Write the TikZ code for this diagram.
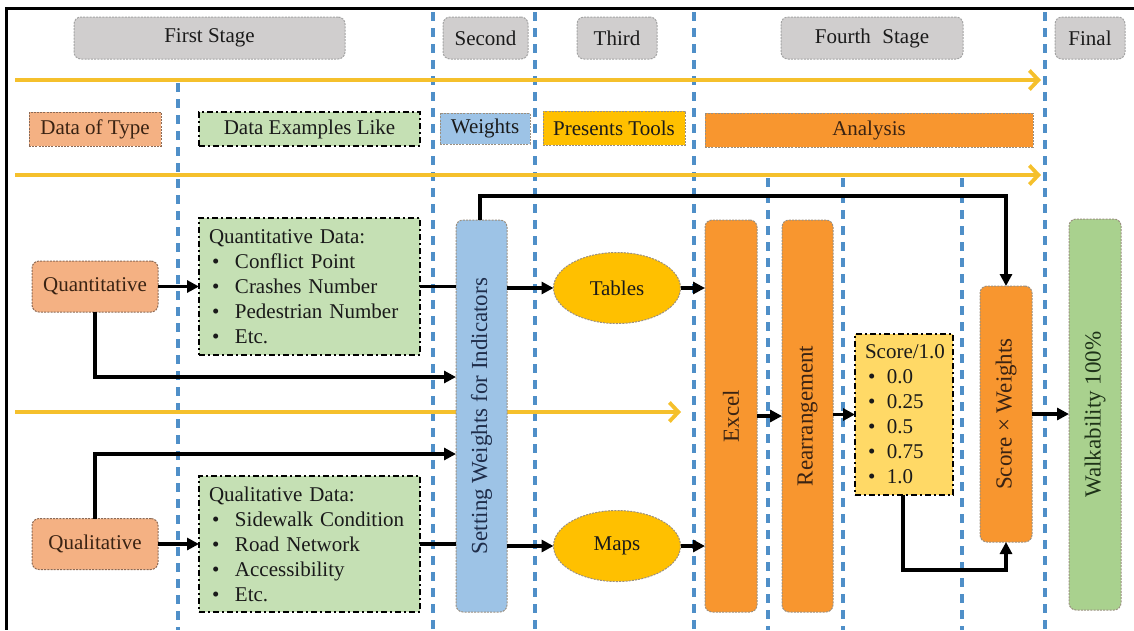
\documentclass[tikz,border=0pt]{standalone}
\usepackage{fontspec}
\usepackage{graphicx}
\setmainfont{Liberation Serif}
\usetikzlibrary{arrows.meta,shapes.geometric,calc}

\definecolor{hdrgray}{HTML}{D0CECE}
\definecolor{hdredge}{HTML}{A3A3A3}
\definecolor{peach}{HTML}{F4B183}
\definecolor{peachedge}{HTML}{8C6A55}
\definecolor{mint}{HTML}{C5E0B4}
\definecolor{sky}{HTML}{9DC3E6}
\definecolor{amber}{HTML}{FFC000}
\definecolor{tangerine}{HTML}{F8962F}
\definecolor{butter}{HTML}{FFD966}
\definecolor{leaf}{HTML}{A9D18E}
\definecolor{guide}{HTML}{4F8FC8}
\definecolor{flow}{HTML}{F5C02C}
\definecolor{ink}{HTML}{1A1A1A}
\definecolor{brownink}{HTML}{3A2313}
\definecolor{softedge}{HTML}{9A8F80}
\definecolor{navyink}{HTML}{1F2D4A}
\definecolor{greenink}{HTML}{1E3218}

\tikzset{
  base/.style={rectangle, inner sep=0pt, outer sep=0pt, text=ink,
    font=\fontsize{21}{25}\selectfont},
  thindash/.style={line width=1pt, dash pattern=on 2pt off 1.2pt},
  dashdot/.style={draw=black, line width=2.2pt, dash pattern=on 6pt off 3pt on 2pt off 3pt},
  hdr/.style={base, draw=hdredge, thindash, fill=hdrgray, rounded corners=7pt,
    minimum height=42pt},
  tagbox/.style={base, draw=softedge, thindash, minimum height=34pt},
  peachbox/.style={base, draw=peachedge, thindash, fill=peach, text=brownink,
    rounded corners=7pt, minimum width=126pt, minimum height=51pt},
  listbox/.style={base, dashdot, align=left, inner xsep=10pt},
  tall/.style={base, draw=softedge, thindash, rounded corners=7pt,
    font=\fontsize{23}{27}\selectfont},
  oval/.style={base, ellipse, draw=softedge, thindash, fill=amber,
    minimum width=127pt, minimum height=71pt},
  conn/.style={draw=black, line width=3.4pt,
    -{Triangle[length=12pt,width=12pt]}},
  link/.style={draw=black, line width=3.4pt},
  guideline/.style={draw=guide, line width=3.4pt, dash pattern=on 9pt off 7pt},
  flowarrow/.style={draw=flow, line width=4pt,
    -{Straight Barb[length=9pt,width=19pt,line width=3.8pt]}}
}

\begin{document}
\begin{tikzpicture}[x=1pt,y=-1pt]
\useasboundingbox (0,0) rectangle (1134,630);

% frame (top and left edges)
\draw[line width=3pt] (1134,8) -- (6,8) -- (6,630);

% stage separators
\foreach \gx in {433,535,694,1045} \draw[guideline] (\gx,12) -- (\gx,630);
\draw[guideline] (178,83) -- (178,630);
\foreach \gx in {768,843,962} \draw[guideline] (\gx,178) -- (\gx,630);

% flow arrows
\coordinate (f1s) at (15,80);   \coordinate (f1e) at (1041,80);
\coordinate (f2s) at (15,175);  \coordinate (f2e) at (1041,175);
\coordinate (f3s) at (15,412);  \coordinate (f3e) at (681,412);
\draw[flowarrow] (f1s) -- (f1e);
\draw[flowarrow] (f2s) -- (f2e);
\draw[flowarrow] (f3s) -- (f3e);

% stage headers
\node[hdr, minimum width=271pt] (h1) at (209.5,38) {First Stage};
\node[hdr, minimum width=85pt]  (h2) at (485.5,38) {Second};
\node[hdr, minimum width=80pt]  (h3) at (617,38)   {Third};
\node[hdr, minimum width=182pt] (h4) at (872,38)   {Fourth\hspace{0.55em}Stage};
\node[hdr, minimum width=70pt]  (h5) at (1090,38)  {Final};

% column captions
\node[tagbox, draw=peachedge, fill=peach, text=brownink, minimum width=132pt] (t1) at (95,129) {Data of Type};
\node[base, dashdot, fill=mint, minimum width=221pt, minimum height=34pt] (t2) at (309.5,129) {Data Examples Like};
\node[tagbox, fill=sky, minimum width=90pt, minimum height=31pt] (t3) at (485,128.5) {Weights};
\node[tagbox, fill=amber, minimum width=142pt] (t4) at (614,128) {Presents Tools};
\node[tagbox, fill=tangerine, text=brownink, minimum width=328pt] (t5) at (869,130) {Analysis};

% data types
\node[peachbox] (q)  at (95,286.5) {Quantitative};
\node[peachbox] (ql) at (95,544)   {Qualitative};

% data examples
\node[listbox, fill=mint, text width=201pt, minimum width=221pt, minimum height=137pt] (g1) at (309.5,286.5) {%
Quantitative Data:\\
\hspace*{3pt}\makebox[23pt][l]{\textbullet}Conflict Point\\
\hspace*{3pt}\makebox[23pt][l]{\textbullet}Crashes Number\\
\hspace*{3pt}\makebox[23pt][l]{\textbullet}Pedestrian Number\\
\hspace*{3pt}\makebox[23pt][l]{\textbullet}Etc.};
\node[listbox, fill=mint, text width=201pt, minimum width=221pt, minimum height=136pt] (g2) at (309.5,544) {%
Qualitative Data:\\
\hspace*{3pt}\makebox[23pt][l]{\textbullet}Sidewalk Condition\\
\hspace*{3pt}\makebox[23pt][l]{\textbullet}Road Network\\
\hspace*{3pt}\makebox[23pt][l]{\textbullet}Accessibility\\
\hspace*{3pt}\makebox[23pt][l]{\textbullet}Etc.};

% weights
\node[tall, fill=sky, text=navyink, minimum width=51pt, minimum height=392pt] (set) at (481.5,416) {\rotatebox{90}{Setting Weights for Indicators}};

% presentation tools
\node[oval] (tab)  at (617,288) {Tables};
\node[oval] (maps) at (617,546) {Maps};

% analysis steps
\node[tall, fill=tangerine, text=brownink, minimum width=52pt, minimum height=392pt] (xl) at (731,416) {\rotatebox{90}{Excel}};
\node[tall, fill=tangerine, text=brownink, minimum width=51pt, minimum height=392pt] (rr) at (807.5,416) {\rotatebox{90}{Rearrangement}};
\node[listbox, fill=butter, text width=78pt, minimum width=98pt, minimum height=161pt] (sc) at (904,414.5) {%
Score/1.0\\
\hspace*{3pt}\makebox[19pt][l]{\textbullet}0.0\\
\hspace*{3pt}\makebox[19pt][l]{\textbullet}0.25\\
\hspace*{3pt}\makebox[19pt][l]{\textbullet}0.5\\
\hspace*{3pt}\makebox[19pt][l]{\textbullet}0.75\\
\hspace*{3pt}\makebox[19pt][l]{\textbullet}1.0};
\node[tall, fill=tangerine, text=brownink, minimum width=52pt, minimum height=256pt] (sw) at (1006,414) {\rotatebox{90}{Score × Weights}};

% result
\node[tall, fill=leaf, text=greenink, minimum width=52pt, minimum height=391pt] (wk) at (1095,414.5) {\rotatebox{90}{Walkability 100\%}};

% connectors
\draw[conn] (q.east) -- (g1.west);
\draw[conn] (ql.east) -- (g2.west);
\draw[link] (g1.east) -- (set.west |- g1.east);
\draw[link] (g2.east) -- (set.west |- g2.east);
\draw[conn] (q.south) |- (set.west |- 0,377);
\draw[conn] (ql.north) |- (set.west |- 0,454);
\draw[conn] (set.east |- tab.west) -- (tab.west);
\draw[conn] (set.east |- maps.west) -- (maps.west);
\draw[conn] (tab.east) -- (xl.west |- tab.east);
\draw[conn] (maps.east) -- (xl.west |- maps.east);
\draw[conn] (set.north -| 480,0) |- (sw.north |- 0,196) -- (sw.north);
\draw[conn] (xl.east) -- (rr.west);
\draw[conn] (rr.east |- sc.west) -- (sc.west);
\draw[conn] (sc.south -| 903,0) |- (sw.south |- 0,570) -- (sw.south);
\draw[conn] (sw.east) -- (wk.west |- sw.east);
\end{tikzpicture}
\end{document}
